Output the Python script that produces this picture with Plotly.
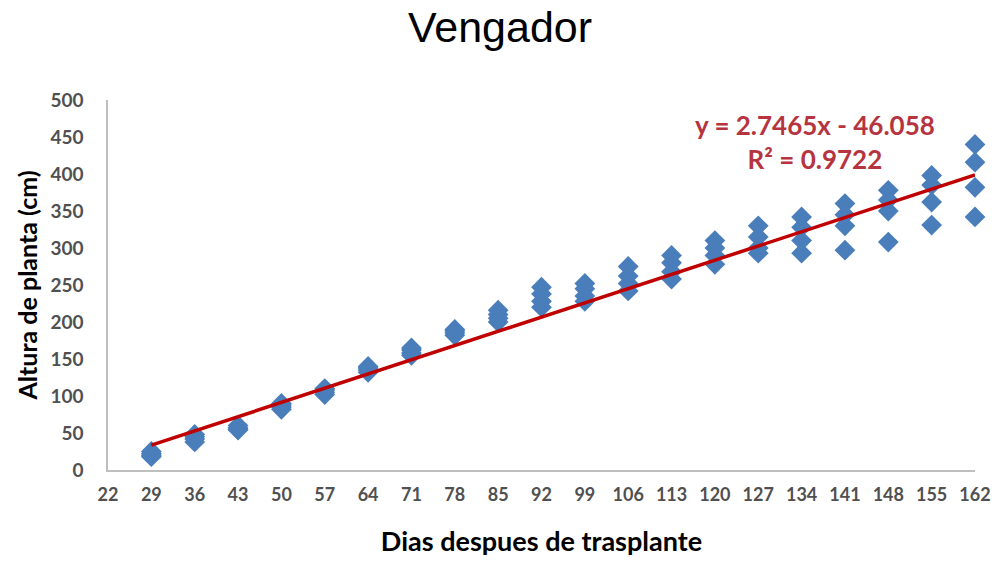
import numpy as np
import plotly.graph_objects as go

# dias despues de trasplante (4 repeticiones por fecha)
dias = [29, 36, 43, 50, 57, 64, 71, 78, 85, 92, 99, 106, 113, 120, 127, 134, 141, 148, 155, 162]
rep1 = [18, 38, 54, 82, 102, 132, 155, 182, 200, 220, 228, 242, 258, 278, 293, 293, 297, 308, 331, 342]
rep2 = [22, 42, 57, 85, 105, 135, 158, 185, 205, 228, 235, 252, 268, 290, 300, 310, 330, 350, 362, 382]
rep3 = [25, 45, 60, 88, 108, 138, 162, 188, 210, 238, 245, 262, 280, 300, 315, 328, 345, 365, 385, 416]
rep4 = [20, 48, 55, 90, 110, 140, 165, 190, 216, 247, 252, 275, 290, 310, 330, 342, 360, 378, 398, 440]

x_ticks = [22, 29, 36, 43, 50, 57, 64, 71, 78, 85, 92, 99, 106, 113, 120, 127, 134, 141, 148, 155, 162]
y_ticks = [0, 50, 100, 150, 200, 250, 300, 350, 400, 450, 500]

pendiente = 2.7465
intercepto = -46.058
r2 = 0.9722

x_all = dias * 4
y_all = rep1 + rep2 + rep3 + rep4

# la pagina tiene 8px de margen en el body, la figura se reduce para caber
W, H = 992, 553

fig = go.Figure()
fig.add_trace(go.Scatter(
    x=x_all, y=y_all, mode='markers',
    marker=dict(symbol='diamond', size=16, color='#4A7EBB'),
    showlegend=False, cliponaxis=False
))

x_lin = np.array([min(dias), max(dias)])
fig.add_trace(go.Scatter(
    x=x_lin, y=pendiente * x_lin + intercepto, mode='lines',
    line=dict(color='#C00000', width=3.5),
    showlegend=False, cliponaxis=False
))

fig.add_annotation(
    x=(807 - 100) / 867, y=(462 - 134) / 370, xref='x domain', yref='y domain',
    xanchor='center', yanchor='middle', showarrow=False,
    text=f'<b>y = {pendiente}x - {abs(intercepto)}<br>R² = {r2}</b>',
    font=dict(family='Lato, sans-serif', size=26, color='#B5343F'),
    align='center'
)

fig.update_layout(
    width=W, height=H,
    template='plotly_white',
    paper_bgcolor='white', plot_bgcolor='white',
    margin=dict(l=100, r=25, t=92, b=91),
    title=dict(text='Vengador', x=492 / W, xanchor='center', y=1 - 4 / H, yanchor='top',
               font=dict(family='Liberation Sans, Arial', size=43, color='black')),
    font=dict(family='Lato, sans-serif'),
)
fig.update_xaxes(
    range=[22, 162], tickvals=x_ticks, ticktext=[str(v) for v in x_ticks],
    showgrid=False, zeroline=False, showline=True, linecolor='#BFBFBF', linewidth=1.5,
    tickfont=dict(size=18, color='#505050', family='Lato, sans-serif', weight='bold'),
    ticklen=0, ticklabelstandoff=8, automargin=False,
    title=dict(text='<b>Dias despues de trasplante</b>', standoff=28,
               font=dict(size=27, color='black', family='Lato, sans-serif'))
)
fig.update_yaxes(
    range=[0, 500], tickvals=y_ticks,
    showgrid=False, zeroline=False, showline=True, linecolor='#BFBFBF', linewidth=1.5,
    tickfont=dict(size=19, color='#505050', family='Lato, sans-serif', weight='bold'),
    ticklen=0, ticklabelstandoff=19, automargin=False,
    title=dict(text='<b>Altura de planta (cm)</b>', standoff=6,
               font=dict(size=25, color='black', family='Lato, sans-serif'))
)

fig.write_html("out.html")
